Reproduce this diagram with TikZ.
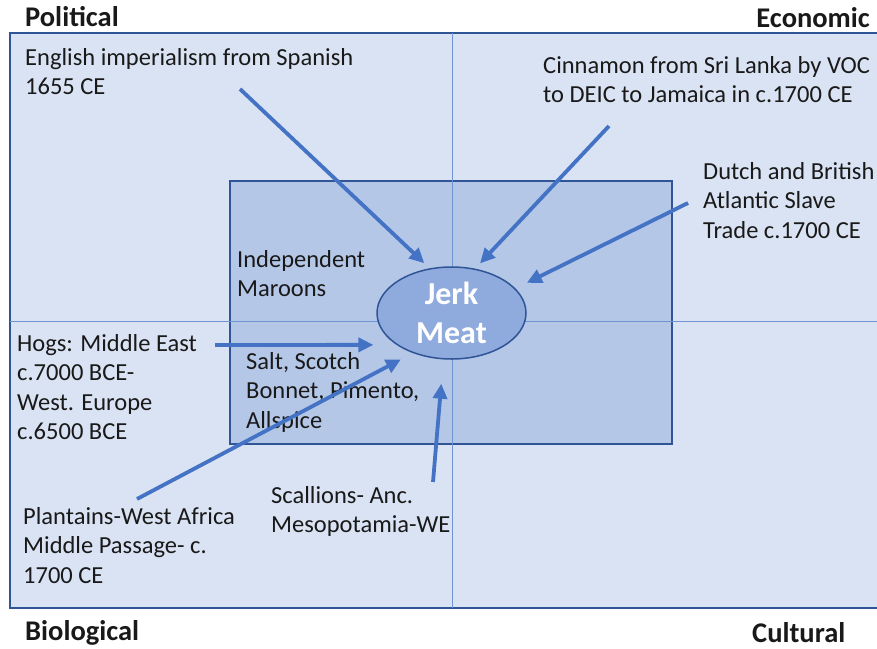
\documentclass[tikz,border=0pt]{standalone}
\usepackage{fontspec}
\setmainfont{Carlito}
\usetikzlibrary{arrows.meta, shapes.geometric}

\definecolor{paleblue}{HTML}{DAE3F3}
\definecolor{midblue}{HTML}{B4C7E7}
\definecolor{coreblue}{HTML}{8FAADC}
\definecolor{edgeblue}{HTML}{2F5597}
\definecolor{arrowblue}{HTML}{4472C4}
\definecolor{gridblue}{HTML}{6F93D3}

\begin{document}
\begin{tikzpicture}[
        x=1pt, y=-1pt,
        txt/.style={
            anchor=base west,
            align=left,
            inner sep=0pt,
            text=black!90,
            font=\fontsize{24.5}{29.5}\selectfont
        },
        head/.style={
            inner sep=0pt,
            text=black!90,
            font=\fontsize{28.5}{33}\selectfont\bfseries
        },
        core/.style={
            ellipse,
            draw=edgeblue,
            line width=1.5pt,
            fill=coreblue,
            text=white,
            align=center,
            inner sep=-6pt,
            minimum width=149pt,
            minimum height=92pt,
            font=\fontsize{32}{39}\selectfont\bfseries
        },
        flow/.style={-{Triangle[length=15pt,width=14pt]}, line width=3.8pt, draw=arrowblue}
    ]

    \useasboundingbox (0,0) rectangle (877,648);
    \clip (0,0) rectangle (877,648);

    % quadrants
    \draw[edgeblue, line width=1.5pt, fill=paleblue] (10,33) rectangle (885,608);
    \draw[edgeblue, line width=1.5pt, fill=midblue] (230,181) rectangle (672,444);
    \draw[gridblue, line width=0.8pt] (452,33) -- (452,608);
    \draw[gridblue, line width=0.8pt] (10,321) -- (885,321);

    \node[head, anchor=base west] (political) at (25,26) {Political};
    \node[head, anchor=base east] (economic) at (870,27) {Economic};
    \node[head, anchor=base west] (biological) at (25,640) {Biological};
    \node[head, anchor=base west] (cultural) at (752,642) {Cultural};

    \node[core] (jerk) at (451.5,313) {Jerk\\Meat};

    % base = last line
    \node[txt] (english) at (25,94.5) {English imperialism from Spanish\\1655 CE};
    \node[txt] (cinnamon) at (543,102.5) {Cinnamon from Sri Lanka by VOC\\to DEIC to Jamaica in c.1700 CE};
    \node[txt] (dutch) at (703,238) {Dutch and British\\Atlantic Slave\\Trade c.1700 CE};
    \node[txt] (maroons) at (237,296.5) {Independent\\Maroons};
    \node[txt] (hogs) at (17,439.5) {Hogs: Middle East\\c.7000 BCE-\\West. Europe\\c.6500 BCE};
    \node[txt] (spices) at (246,428) {Salt, Scotch\\Bonnet, Pimento,\\Allspice};
    \node[txt] (plantains) at (23,583) {Plantains-West Africa\\Middle Passage- c.\\1700 CE};
    \node[txt] (scallions) at (271,532.5) {Scallions- Anc.\\Mesopotamia-WE};

    % arrow tails
    \coordinate (englishtail) at (240,89);
    \coordinate (cinnamontail) at (609,126);
    \coordinate (dutchtail) at (688,203);
    \coordinate (hogstail) at (215,345);
    \coordinate (plantainstail) at (137,499);
    \coordinate (scallionstail) at (433,482);

    \draw[flow, shorten >=7.4pt] (englishtail) -- (jerk.116.7);
    \draw[flow, shorten >=7.1pt] (cinnamontail) -- (jerk.62.7);
    \draw[flow, shorten >=12.6pt] (dutchtail) -- (jerk.21.1);
    \draw[flow, shorten >=23pt] (hogstail) -- (jerk.210.9);
    \draw[flow, shorten >=13.4pt] (plantainstail) -- (jerk.226.5);
    \draw[flow, shorten >=24.3pt] (scallionstail) -- (jerk.260.9);

\end{tikzpicture}
\end{document}
